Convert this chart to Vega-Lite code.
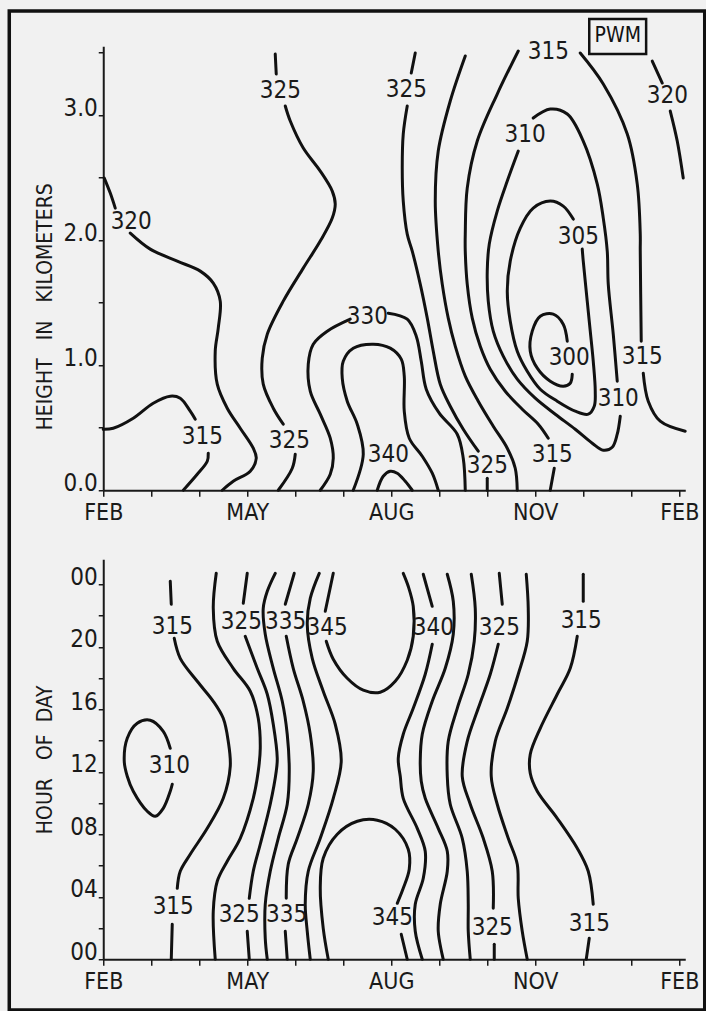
{
"$schema": "https://vega.github.io/schema/vega-lite/v6.json",
"background": "#f1f1f1",
"padding": {"left": 7.25, "top": 8.25, "right": 0, "bottom": 0},
"bounds": "flush",
"spacing": 69,
"config": {
 "view": {"stroke": null},
 "font": "Liberation Sans Narrow, DejaVu Sans Condensed, sans-serif",
 "axis": {"labelFont": "Liberation Sans Narrow, DejaVu Sans Condensed, sans-serif", "titleFont": "Liberation Sans Narrow, DejaVu Sans Condensed, sans-serif", "labelFontSize": 24, "titleFontSize": 21, "titleFontWeight": "normal", "labelColor": "#1a1a1a", "titleColor": "#1a1a1a", "domainColor": "#1a1a1a", "tickColor": "#1a1a1a", "domainWidth": 2, "tickWidth": 1.5, "grid": false, "labelFlush": false, "labelOverlap": false, "labelBound": false}
},
"datasets": {
 "frame": [{"m": -1.958, "h": 3.832, "m2": 12.531, "h2": -4.156}],
 "pwm": [{"m": 10.125, "h": 3.768, "m2": 11.31, "h2": 3.488}],
 "pwmtext": [{"m": 10.72, "h": 3.628, "t": "PWM"}],
 "toplab": [
  {"m":0.583,"h":2.144,"t":"320"},{"m":2.0625,"h":0.424,"t":"315"},{"m":3.6875,"h":3.192,"t":"325"},{"m":3.875,"h":0.392,"t":"325"},
  {"m":5.5,"h":1.384,"t":"330"},{"m":5.9375,"h":0.28,"t":"340"},{"m":6.3125,"h":3.2,"t":"325"},{"m":9.271,"h":3.504,"t":"315"},
  {"m":8.79,"h":2.84,"t":"310"},{"m":9.896,"h":2.024,"t":"305"},{"m":11.75,"h":3.152,"t":"320"},{"m":9.708,"h":1.056,"t":"300"},
  {"m":11.229,"h":1.064,"t":"315"},{"m":10.729,"h":0.728,"t":"310"},{"m":8.0,"h":0.192,"t":"325"},{"m":9.354,"h":0.28,"t":"315"}
 ],
 "botlab": [
  {"m":1.4375,"h":21.25,"t":"315"},{"m":2.875,"h":21.57,"t":"325"},{"m":3.8,"h":21.57,"t":"335"},{"m":4.666,"h":21.18,"t":"345"},
  {"m":1.375,"h":12.35,"t":"310"},{"m":6.875,"h":21.18,"t":"340"},{"m":8.25,"h":21.18,"t":"325"},{"m":9.958,"h":21.63,"t":"315"},
  {"m":1.458,"h":3.33,"t":"315"},{"m":2.833,"h":2.82,"t":"325"},{"m":3.82,"h":2.82,"t":"335"},{"m":6.021,"h":2.62,"t":"345"},
  {"m":8.104,"h":1.98,"t":"325"},{"m":10.125,"h":2.24,"t":"315"}
 ],
 "top": [
  {"s":"t1","i":0,"m":0.021,"h":2.496},{"s":"t1","i":1,"m":0.146,"h":2.376},{"s":"t1","i":2,"m":0.25,"h":2.256},
  {"s":"t2","i":0,"m":0.5625,"h":2.056},{"s":"t2","i":1,"m":0.979,"h":1.928},{"s":"t2","i":2,"m":1.542,"h":1.832},{"s":"t2","i":3,"m":2.021,"h":1.752},{"s":"t2","i":4,"m":2.292,"h":1.656},{"s":"t2","i":5,"m":2.4375,"h":1.512},{"s":"t2","i":6,"m":2.396,"h":1.296},{"s":"t2","i":7,"m":2.333,"h":1.112},{"s":"t2","i":8,"m":2.375,"h":0.848},{"s":"t2","i":9,"m":2.583,"h":0.656},{"s":"t2","i":10,"m":2.854,"h":0.496},{"s":"t2","i":11,"m":3.125,"h":0.336},{"s":"t2","i":12,"m":3.1875,"h":0.256},{"s":"t2","i":13,"m":3.0625,"h":0.152},{"s":"t2","i":14,"m":2.708,"h":0.072},{"s":"t2","i":15,"m":2.479,"h":0},
  {"s":"t3","i":0,"m":0,"h":0.488},{"s":"t3","i":1,"m":0.208,"h":0.496},{"s":"t3","i":2,"m":0.625,"h":0.576},{"s":"t3","i":3,"m":1.042,"h":0.696},{"s":"t3","i":4,"m":1.396,"h":0.752},{"s":"t3","i":5,"m":1.604,"h":0.736},{"s":"t3","i":6,"m":1.8125,"h":0.632},{"s":"t3","i":7,"m":1.917,"h":0.568},
  {"s":"t4","i":0,"m":2.1875,"h":0.296},{"s":"t4","i":1,"m":2.167,"h":0.232},{"s":"t4","i":2,"m":1.958,"h":0.128},{"s":"t4","i":3,"m":1.667,"h":0},
  {"s":"t5","i":0,"m":3.583,"h":3.488},{"s":"t5","i":1,"m":3.604,"h":3.328},
  {"s":"t6","i":0,"m":3.792,"h":3.072},{"s":"t6","i":1,"m":3.896,"h":2.952},{"s":"t6","i":2,"m":4.167,"h":2.736},{"s":"t6","i":3,"m":4.521,"h":2.552},{"s":"t6","i":4,"m":4.771,"h":2.392},{"s":"t6","i":5,"m":4.833,"h":2.288},{"s":"t6","i":6,"m":4.771,"h":2.176},{"s":"t6","i":7,"m":4.521,"h":1.992},{"s":"t6","i":8,"m":4.167,"h":1.776},{"s":"t6","i":9,"m":3.75,"h":1.512},{"s":"t6","i":10,"m":3.417,"h":1.248},{"s":"t6","i":11,"m":3.3125,"h":1.056},{"s":"t6","i":12,"m":3.333,"h":0.848},{"s":"t6","i":13,"m":3.542,"h":0.656},{"s":"t6","i":14,"m":3.75,"h":0.528},
  {"s":"t7","i":0,"m":4.0,"h":0.288},{"s":"t7","i":1,"m":3.9375,"h":0.176},{"s":"t7","i":2,"m":3.646,"h":0},
  {"s":"t8","i":0,"m":5.146,"h":1.368},{"s":"t8","i":1,"m":4.667,"h":1.272},{"s":"t8","i":2,"m":4.375,"h":1.168},{"s":"t8","i":3,"m":4.271,"h":1.008},{"s":"t8","i":4,"m":4.3125,"h":0.792},{"s":"t8","i":5,"m":4.521,"h":0.608},{"s":"t8","i":6,"m":4.729,"h":0.416},{"s":"t8","i":7,"m":4.792,"h":0.256},{"s":"t8","i":8,"m":4.729,"h":0.128},{"s":"t8","i":9,"m":4.521,"h":0},
  {"s":"t9","i":0,"m":5.9375,"h":1.416},{"s":"t9","i":1,"m":6.333,"h":1.368},{"s":"t9","i":2,"m":6.521,"h":1.232},{"s":"t9","i":3,"m":6.625,"h":1.032},{"s":"t9","i":4,"m":6.729,"h":0.808},{"s":"t9","i":5,"m":7.0,"h":0.616},{"s":"t9","i":6,"m":7.375,"h":0.448},{"s":"t9","i":7,"m":7.5,"h":0.256},{"s":"t9","i":8,"m":7.542,"h":0},
  {"s":"t10","i":0,"m":5.208,"h":0},{"s":"t10","i":1,"m":5.417,"h":0.288},{"s":"t10","i":2,"m":5.292,"h":0.528},{"s":"t10","i":3,"m":5.083,"h":0.712},{"s":"t10","i":4,"m":4.979,"h":0.896},{"s":"t10","i":5,"m":5.0,"h":1.032},{"s":"t10","i":6,"m":5.208,"h":1.136},{"s":"t10","i":7,"m":5.625,"h":1.168},{"s":"t10","i":8,"m":5.979,"h":1.136},{"s":"t10","i":9,"m":6.208,"h":1.048},{"s":"t10","i":10,"m":6.271,"h":0.912},{"s":"t10","i":11,"m":6.271,"h":0.632},{"s":"t10","i":12,"m":6.375,"h":0.416},{"s":"t10","i":13,"m":6.646,"h":0.272},{"s":"t10","i":14,"m":6.854,"h":0.136},{"s":"t10","i":15,"m":6.979,"h":0},
  {"s":"t11","i":0,"m":5.708,"h":0},{"s":"t11","i":1,"m":5.833,"h":0.112},{"s":"t11","i":2,"m":5.979,"h":0.152},{"s":"t11","i":3,"m":6.125,"h":0.136},{"s":"t11","i":4,"m":6.292,"h":0.072},{"s":"t11","i":5,"m":6.4375,"h":0},
  {"s":"t12","i":0,"m":6.5,"h":3.496},{"s":"t12","i":1,"m":6.417,"h":3.336},
  {"s":"t13","i":0,"m":6.333,"h":3.072},{"s":"t13","i":1,"m":6.25,"h":2.848},{"s":"t13","i":2,"m":6.229,"h":2.576},{"s":"t13","i":3,"m":6.25,"h":2.312},{"s":"t13","i":4,"m":6.333,"h":2.048},{"s":"t13","i":5,"m":6.4375,"h":1.912},{"s":"t13","i":6,"m":6.604,"h":1.648},{"s":"t13","i":7,"m":6.75,"h":1.376},{"s":"t13","i":8,"m":6.875,"h":1.112},{"s":"t13","i":9,"m":7.021,"h":0.848},{"s":"t13","i":10,"m":7.229,"h":0.672},{"s":"t13","i":11,"m":7.5,"h":0.488},{"s":"t13","i":12,"m":7.8125,"h":0.312},
  {"s":"t14","i":0,"m":8.0,"h":0.096},{"s":"t14","i":1,"m":8.0,"h":0},
  {"s":"t15","i":0,"m":7.542,"h":3.472},{"s":"t15","i":1,"m":7.229,"h":3.112},{"s":"t15","i":2,"m":6.979,"h":2.712},{"s":"t15","i":3,"m":6.917,"h":2.312},{"s":"t15","i":4,"m":6.979,"h":1.912},{"s":"t15","i":5,"m":7.0625,"h":1.648},{"s":"t15","i":6,"m":7.1875,"h":1.376},{"s":"t15","i":7,"m":7.333,"h":1.152},{"s":"t15","i":8,"m":7.542,"h":0.912},{"s":"t15","i":9,"m":7.8125,"h":0.712},{"s":"t15","i":10,"m":8.125,"h":0.512},{"s":"t15","i":11,"m":8.417,"h":0.336},{"s":"t15","i":12,"m":8.583,"h":0.176},{"s":"t15","i":13,"m":8.625,"h":0},
  {"s":"t16","i":0,"m":9.271,"h":0.416},{"s":"t16","i":1,"m":9.0625,"h":0.528},{"s":"t16","i":2,"m":8.729,"h":0.648},{"s":"t16","i":3,"m":8.375,"h":0.792},{"s":"t16","i":4,"m":8.0625,"h":0.968},{"s":"t16","i":5,"m":7.854,"h":1.152},{"s":"t16","i":6,"m":7.6875,"h":1.376},{"s":"t16","i":7,"m":7.583,"h":1.648},{"s":"t16","i":8,"m":7.542,"h":1.912},{"s":"t16","i":9,"m":7.542,"h":2.048},{"s":"t16","i":10,"m":7.583,"h":2.416},{"s":"t16","i":11,"m":7.792,"h":2.792},{"s":"t16","i":12,"m":8.208,"h":3.168},{"s":"t16","i":13,"m":8.646,"h":3.512},
  {"s":"t17","i":0,"m":9.396,"h":0.176},{"s":"t17","i":1,"m":9.3125,"h":0},
  {"s":"t18","i":0,"m":9.9375,"h":3.496},{"s":"t18","i":1,"m":10.417,"h":3.248},{"s":"t18","i":2,"m":10.917,"h":2.848},{"s":"t18","i":3,"m":11.125,"h":2.448},{"s":"t18","i":4,"m":11.1875,"h":2.048},{"s":"t18","i":5,"m":11.1875,"h":1.912},{"s":"t18","i":6,"m":11.208,"h":1.192},
  {"s":"t19","i":0,"m":11.25,"h":0.936},{"s":"t19","i":1,"m":11.354,"h":0.712},{"s":"t19","i":2,"m":11.604,"h":0.552},{"s":"t19","i":3,"m":12.125,"h":0.472},
  {"s":"t20","i":0,"m":8.646,"h":2.712},{"s":"t20","i":1,"m":8.417,"h":2.472},{"s":"t20","i":2,"m":8.208,"h":2.232},{"s":"t20","i":3,"m":8.042,"h":1.968},{"s":"t20","i":4,"m":8.0,"h":1.752},{"s":"t20","i":5,"m":8.021,"h":1.512},{"s":"t20","i":6,"m":8.125,"h":1.272},{"s":"t20","i":7,"m":8.333,"h":1.072},{"s":"t20","i":8,"m":8.625,"h":0.888},{"s":"t20","i":9,"m":9.0,"h":0.736},{"s":"t20","i":10,"m":9.417,"h":0.608},{"s":"t20","i":11,"m":9.833,"h":0.488},{"s":"t20","i":12,"m":10.1875,"h":0.376},{"s":"t20","i":13,"m":10.417,"h":0.32},{"s":"t20","i":14,"m":10.604,"h":0.344},{"s":"t20","i":15,"m":10.708,"h":0.448},{"s":"t20","i":16,"m":10.771,"h":0.592},
  {"s":"t21","i":0,"m":10.708,"h":0.872},{"s":"t21","i":1,"m":10.625,"h":1.248},{"s":"t21","i":2,"m":10.521,"h":1.648},{"s":"t21","i":3,"m":10.5,"h":1.912},{"s":"t21","i":4,"m":10.417,"h":2.176},{"s":"t21","i":5,"m":10.292,"h":2.448},{"s":"t21","i":6,"m":10.0,"h":2.792},{"s":"t21","i":7,"m":9.667,"h":3.008},{"s":"t21","i":8,"m":9.3125,"h":3.048},{"s":"t21","i":9,"m":8.958,"h":2.976},
  {"s":"t22","i":0,"m":9.792,"h":2.168},{"s":"t22","i":1,"m":9.583,"h":2.272},{"s":"t22","i":2,"m":9.3125,"h":2.312},{"s":"t22","i":3,"m":8.958,"h":2.256},{"s":"t22","i":4,"m":8.6875,"h":2.096},{"s":"t22","i":5,"m":8.479,"h":1.832},{"s":"t22","i":6,"m":8.417,"h":1.592},{"s":"t22","i":7,"m":8.479,"h":1.352},{"s":"t22","i":8,"m":8.625,"h":1.112},{"s":"t22","i":9,"m":8.833,"h":0.952},{"s":"t22","i":10,"m":9.104,"h":0.808},{"s":"t22","i":11,"m":9.458,"h":0.712},{"s":"t22","i":12,"m":9.833,"h":0.632},{"s":"t22","i":13,"m":10.104,"h":0.608},{"s":"t22","i":14,"m":10.229,"h":0.672},{"s":"t22","i":15,"m":10.25,"h":0.792},{"s":"t22","i":16,"m":10.208,"h":1.032},{"s":"t22","i":17,"m":10.146,"h":1.272},{"s":"t22","i":18,"m":10.083,"h":1.512},{"s":"t22","i":19,"m":10.0,"h":1.832},{"s":"t22","i":20,"m":9.979,"h":1.928},
  {"s":"t23","i":0,"m":9.771,"h":0.928},{"s":"t23","i":1,"m":9.729,"h":0.856},{"s":"t23","i":2,"m":9.583,"h":0.832},{"s":"t23","i":3,"m":9.3125,"h":0.872},{"s":"t23","i":4,"m":9.042,"h":0.976},{"s":"t23","i":5,"m":8.896,"h":1.112},{"s":"t23","i":6,"m":8.9375,"h":1.272},{"s":"t23","i":7,"m":9.104,"h":1.392},{"s":"t23","i":8,"m":9.375,"h":1.408},{"s":"t23","i":9,"m":9.583,"h":1.328},{"s":"t23","i":10,"m":9.667,"h":1.192},
  {"s":"t24","i":0,"m":11.4375,"h":3.432},{"s":"t24","i":1,"m":11.646,"h":3.256},
  {"s":"t25","i":0,"m":11.8125,"h":3.032},{"s":"t25","i":1,"m":11.958,"h":2.792},{"s":"t25","i":2,"m":12.083,"h":2.496}
 ],
 "bot": [
  {"s":"b1","i":0,"m":1.396,"h":24.19},{"s":"b1","i":1,"m":1.417,"h":22.72},
  {"s":"b2","i":0,"m":1.479,"h":20.54},{"s":"b2","i":1,"m":1.604,"h":19.26},{"s":"b2","i":2,"m":1.958,"h":17.79},{"s":"b2","i":3,"m":2.292,"h":16.51},{"s":"b2","i":4,"m":2.5,"h":15.42},{"s":"b2","i":5,"m":2.604,"h":13.95},{"s":"b2","i":6,"m":2.646,"h":12.35},{"s":"b2","i":7,"m":2.5,"h":10.3},{"s":"b2","i":8,"m":2.167,"h":8.38},{"s":"b2","i":9,"m":1.8125,"h":6.72},{"s":"b2","i":10,"m":1.604,"h":5.63},{"s":"b2","i":11,"m":1.542,"h":4.54},
  {"s":"b3","i":0,"m":1.4375,"h":2.24},{"s":"b3","i":1,"m":1.417,"h":0},
  {"s":"b4","i":0,"m":1.396,"h":13.5},{"s":"b4","i":1,"m":1.25,"h":14.59},{"s":"b4","i":2,"m":0.979,"h":15.3},{"s":"b4","i":3,"m":0.708,"h":15.1},{"s":"b4","i":4,"m":0.5,"h":14.14},{"s":"b4","i":5,"m":0.4375,"h":12.67},{"s":"b4","i":6,"m":0.5,"h":11.71},{"s":"b4","i":7,"m":0.625,"h":10.75},{"s":"b4","i":8,"m":0.917,"h":9.47},{"s":"b4","i":9,"m":1.083,"h":9.15},{"s":"b4","i":10,"m":1.25,"h":9.66},{"s":"b4","i":11,"m":1.396,"h":10.75},{"s":"b4","i":12,"m":1.4375,"h":11.2},
  {"s":"b5","i":0,"m":2.354,"h":24.7},{"s":"b5","i":1,"m":2.292,"h":22.46},{"s":"b5","i":2,"m":2.375,"h":20.35},{"s":"b5","i":3,"m":2.708,"h":18.62},{"s":"b5","i":4,"m":3.0625,"h":17.15},{"s":"b5","i":5,"m":3.229,"h":15.42},{"s":"b5","i":6,"m":3.271,"h":13.5},{"s":"b5","i":7,"m":3.229,"h":12.03},{"s":"b5","i":8,"m":3.125,"h":10.3},{"s":"b5","i":9,"m":2.854,"h":7.74},{"s":"b5","i":10,"m":2.583,"h":6.27},{"s":"b5","i":11,"m":2.375,"h":4.99},{"s":"b5","i":12,"m":2.292,"h":3.07},{"s":"b5","i":13,"m":2.333,"h":0},
  {"s":"b6","i":0,"m":3.0,"h":24.7},{"s":"b6","i":1,"m":2.917,"h":22.78},
  {"s":"b7","i":0,"m":2.958,"h":20.67},{"s":"b7","i":1,"m":3.208,"h":18.62},{"s":"b7","i":2,"m":3.417,"h":16.96},{"s":"b7","i":3,"m":3.542,"h":15.04},{"s":"b7","i":4,"m":3.625,"h":12.86},{"s":"b7","i":5,"m":3.604,"h":12.03},{"s":"b7","i":6,"m":3.479,"h":9.92},{"s":"b7","i":7,"m":3.271,"h":7.36},{"s":"b7","i":8,"m":3.125,"h":5.63},{"s":"b7","i":9,"m":3.042,"h":3.9},
  {"s":"b8","i":0,"m":3.0,"h":1.79},{"s":"b8","i":1,"m":3.042,"h":0},
  {"s":"b9","i":0,"m":3.583,"h":24.7},{"s":"b9","i":1,"m":3.417,"h":23.55},{"s":"b9","i":2,"m":3.333,"h":22.46},{"s":"b9","i":3,"m":3.375,"h":20.8},{"s":"b9","i":4,"m":3.542,"h":18.62},{"s":"b9","i":5,"m":3.729,"h":16.51},{"s":"b9","i":6,"m":3.833,"h":14.4},{"s":"b9","i":7,"m":3.875,"h":12.03},{"s":"b9","i":8,"m":3.833,"h":9.92},{"s":"b9","i":9,"m":3.646,"h":7.74},{"s":"b9","i":10,"m":3.479,"h":5.63},{"s":"b9","i":11,"m":3.375,"h":3.52},{"s":"b9","i":12,"m":3.375,"h":1.34},{"s":"b9","i":13,"m":3.417,"h":0},
  {"s":"b10","i":0,"m":3.979,"h":24.7},{"s":"b10","i":1,"m":3.792,"h":22.72},
  {"s":"b11","i":0,"m":3.8125,"h":20.67},{"s":"b11","i":1,"m":3.958,"h":18.62},{"s":"b11","i":2,"m":4.167,"h":16.51},{"s":"b11","i":3,"m":4.3125,"h":14.4},{"s":"b11","i":4,"m":4.375,"h":12.03},{"s":"b11","i":5,"m":4.271,"h":9.92},{"s":"b11","i":6,"m":4.042,"h":7.74},{"s":"b11","i":7,"m":3.854,"h":6.08},{"s":"b11","i":8,"m":3.8125,"h":3.9},
  {"s":"b12","i":0,"m":3.792,"h":1.79},{"s":"b12","i":1,"m":3.833,"h":0},
  {"s":"b13","i":0,"m":4.5,"h":24.7},{"s":"b13","i":1,"m":4.3125,"h":23.1},{"s":"b13","i":2,"m":4.25,"h":21.44},{"s":"b13","i":3,"m":4.354,"h":19.26},{"s":"b13","i":4,"m":4.583,"h":17.15},{"s":"b13","i":5,"m":4.833,"h":15.04},{"s":"b13","i":6,"m":4.958,"h":12.67},{"s":"b13","i":7,"m":4.792,"h":10.3},{"s":"b13","i":8,"m":4.521,"h":7.74},{"s":"b13","i":9,"m":4.271,"h":5.63},{"s":"b13","i":10,"m":4.208,"h":3.52},{"s":"b13","i":11,"m":4.25,"h":1.79},{"s":"b13","i":12,"m":4.3125,"h":0},
  {"s":"b14","i":0,"m":4.792,"h":24.7},{"s":"b14","i":1,"m":4.625,"h":22.27},
  {"s":"b15","i":0,"m":4.646,"h":20.35},{"s":"b15","i":1,"m":4.792,"h":19.2},{"s":"b15","i":2,"m":5.083,"h":17.98},{"s":"b15","i":3,"m":5.417,"h":17.22},{"s":"b15","i":4,"m":5.771,"h":17.09},{"s":"b15","i":5,"m":6.083,"h":17.79},{"s":"b15","i":6,"m":6.333,"h":19.14},{"s":"b15","i":7,"m":6.458,"h":20.67},{"s":"b15","i":8,"m":6.458,"h":22.59},{"s":"b15","i":9,"m":6.354,"h":23.87},{"s":"b15","i":10,"m":6.25,"h":24.7},
  {"s":"b16","i":0,"m":4.6875,"h":0},{"s":"b16","i":1,"m":4.583,"h":1.98},{"s":"b16","i":2,"m":4.521,"h":4.54},{"s":"b16","i":3,"m":4.583,"h":6.46},{"s":"b16","i":4,"m":4.875,"h":8.0},{"s":"b16","i":5,"m":5.292,"h":8.83},{"s":"b16","i":6,"m":5.708,"h":8.9},{"s":"b16","i":7,"m":6.083,"h":8.32},{"s":"b16","i":8,"m":6.354,"h":7.04},{"s":"b16","i":9,"m":6.375,"h":5.76},{"s":"b16","i":10,"m":6.25,"h":4.54},{"s":"b16","i":11,"m":6.125,"h":3.58},
  {"s":"b17","i":0,"m":6.208,"h":1.6},{"s":"b17","i":1,"m":6.333,"h":0},
  {"s":"b18","i":0,"m":6.667,"h":24.64},{"s":"b18","i":1,"m":6.854,"h":22.59},
  {"s":"b19","i":0,"m":6.854,"h":20.16},{"s":"b19","i":1,"m":6.708,"h":18.24},{"s":"b19","i":2,"m":6.458,"h":16.06},{"s":"b19","i":3,"m":6.25,"h":14.4},{"s":"b19","i":4,"m":6.146,"h":12.86},{"s":"b19","i":5,"m":6.1875,"h":11.71},{"s":"b19","i":6,"m":6.25,"h":10.3},{"s":"b19","i":7,"m":6.542,"h":8.38},{"s":"b19","i":8,"m":6.708,"h":6.91},{"s":"b19","i":9,"m":6.667,"h":5.18},{"s":"b19","i":10,"m":6.5,"h":3.52},{"s":"b19","i":11,"m":6.5,"h":1.79},{"s":"b19","i":12,"m":6.646,"h":0},
  {"s":"b20","i":0,"m":7.167,"h":24.64},{"s":"b20","i":1,"m":7.292,"h":22.91},{"s":"b20","i":2,"m":7.292,"h":20.8},{"s":"b20","i":3,"m":7.125,"h":18.62},{"s":"b20","i":4,"m":6.854,"h":16.51},{"s":"b20","i":5,"m":6.646,"h":14.4},{"s":"b20","i":6,"m":6.604,"h":12.67},{"s":"b20","i":7,"m":6.625,"h":11.39},{"s":"b20","i":8,"m":6.708,"h":10.3},{"s":"b20","i":9,"m":6.979,"h":8.38},{"s":"b20","i":10,"m":7.167,"h":6.91},{"s":"b20","i":11,"m":7.167,"h":5.63},{"s":"b20","i":12,"m":7.021,"h":3.52},{"s":"b20","i":13,"m":6.979,"h":1.79},{"s":"b20","i":14,"m":7.083,"h":0},
  {"s":"b21","i":0,"m":7.667,"h":24.64},{"s":"b21","i":1,"m":7.75,"h":22.46},{"s":"b21","i":2,"m":7.729,"h":20.35},{"s":"b21","i":3,"m":7.604,"h":18.24},{"s":"b21","i":4,"m":7.375,"h":16.06},{"s":"b21","i":5,"m":7.1875,"h":13.95},{"s":"b21","i":6,"m":7.167,"h":11.71},{"s":"b21","i":7,"m":7.229,"h":9.92},{"s":"b21","i":8,"m":7.479,"h":7.74},{"s":"b21","i":9,"m":7.583,"h":5.63},{"s":"b21","i":10,"m":7.604,"h":3.52},{"s":"b21","i":11,"m":7.604,"h":1.79},{"s":"b21","i":12,"m":7.646,"h":0},
  {"s":"b22","i":0,"m":8.25,"h":24.7},{"s":"b22","i":1,"m":8.3125,"h":22.72},
  {"s":"b23","i":0,"m":8.229,"h":20.16},{"s":"b23","i":1,"m":8.0625,"h":18.24},{"s":"b23","i":2,"m":7.8125,"h":16.06},{"s":"b23","i":3,"m":7.583,"h":13.95},{"s":"b23","i":4,"m":7.479,"h":11.71},{"s":"b23","i":5,"m":7.646,"h":9.92},{"s":"b23","i":6,"m":7.917,"h":7.74},{"s":"b23","i":7,"m":8.104,"h":5.63},{"s":"b23","i":8,"m":8.125,"h":3.26},
  {"s":"b24","i":0,"m":8.146,"h":0.96},{"s":"b24","i":1,"m":8.146,"h":0},
  {"s":"b25","i":0,"m":8.8125,"h":24.64},{"s":"b25","i":1,"m":8.854,"h":22.46},{"s":"b25","i":2,"m":8.833,"h":20.35},{"s":"b25","i":3,"m":8.646,"h":18.24},{"s":"b25","i":4,"m":8.417,"h":16.06},{"s":"b25","i":5,"m":8.167,"h":13.95},{"s":"b25","i":6,"m":8.083,"h":11.71},{"s":"b25","i":7,"m":8.208,"h":9.92},{"s":"b25","i":8,"m":8.4375,"h":7.74},{"s":"b25","i":9,"m":8.625,"h":6.08},{"s":"b25","i":10,"m":8.646,"h":3.9},{"s":"b25","i":11,"m":8.729,"h":1.79},{"s":"b25","i":12,"m":8.833,"h":0},
  {"s":"b26","i":0,"m":10.0,"h":24.64},{"s":"b26","i":1,"m":10.0,"h":22.91},
  {"s":"b27","i":0,"m":9.875,"h":20.67},{"s":"b27","i":1,"m":9.729,"h":18.62},{"s":"b27","i":2,"m":9.458,"h":16.96},{"s":"b27","i":3,"m":9.104,"h":14.78},{"s":"b27","i":4,"m":8.896,"h":13.12},{"s":"b27","i":5,"m":8.896,"h":11.9},{"s":"b27","i":6,"m":9.042,"h":10.75},{"s":"b27","i":7,"m":9.458,"h":9.02},{"s":"b27","i":8,"m":9.875,"h":7.1},{"s":"b27","i":9,"m":10.104,"h":5.63},{"s":"b27","i":10,"m":10.208,"h":3.52},
  {"s":"b28","i":0,"m":10.125,"h":1.34},{"s":"b28","i":1,"m":10.0625,"h":0}
 ]
},
"vconcat": [
 {
  "width": 582, "height": 444,
  "encoding": {
   "x": {"field": "m", "type": "quantitative", "scale": {"domain": [0, 12.125], "nice": false, "zero": false},
     "axis": {"values": [0,1,2,3,4,5,6,7,8,9,10,11,12], "labelExpr": "datum.value==0||datum.value==12?'FEB':datum.value==3?'MAY':datum.value==6?'AUG':datum.value==9?'NOV':''", "title": null, "tickSize": 6, "labelPadding": 5, "labelFontSize": 23}},
   "y": {"field": "h", "type": "quantitative", "scale": {"domain": [0, 3.55], "nice": false, "zero": false},
     "axis": {"values": [0,0.5,1,1.5,2,2.5,3,3.5], "labelExpr": "datum.value % 1 == 0 ? format(datum.value, '.1f') : ''", "labelBaseline": "alphabetic", "tickSize": 5, "labelPadding": 1, "title": "HEIGHT\u00a0\u00a0\u00a0IN\u00a0\u00a0\u00a0KILOMETERS", "titleY": 260, "titlePadding": 7}}
  },
  "layer": [
   {"data": {"name": "frame"}, "mark": {"type": "rect", "filled": false, "stroke": "#111111", "strokeWidth": 3.5}, "encoding": {"x2": {"field": "m2"}, "y2": {"field": "h2"}}},
   {"data": {"name": "pwm"}, "mark": {"type": "rect", "filled": false, "stroke": "#111111", "strokeWidth": 2.5}, "encoding": {"x2": {"field": "m2"}, "y2": {"field": "h2"}}},
   {"data": {"name": "pwmtext"}, "mark": {"type": "text", "fontSize": 21, "color": "#111111", "baseline": "middle"}, "encoding": {"text": {"field": "t"}}},
   {"data": {"name": "top"}, "mark": {"type": "line", "interpolate": "catmull-rom", "strokeWidth": 3, "color": "#111111", "strokeCap": "round"}, "encoding": {"detail": {"field": "s"}, "order": {"field": "i"}}},
   {"data": {"name": "toplab"}, "mark": {"type": "text", "fontSize": 24, "color": "#1a1a1a", "baseline": "middle"}, "encoding": {"text": {"field": "t"}}}
  ]
 },
 {
  "width": 582, "height": 400,
  "encoding": {
   "x": {"field": "m", "type": "quantitative", "scale": {"domain": [0, 12.125], "nice": false, "zero": false},
     "axis": {"values": [0,1,2,3,4,5,6,7,8,9,10,11,12], "labelExpr": "datum.value==0||datum.value==12?'FEB':datum.value==3?'MAY':datum.value==6?'AUG':datum.value==9?'NOV':''", "title": null, "tickSize": 6, "labelPadding": 5, "labelFontSize": 23}},
   "y": {"field": "h", "type": "quantitative", "scale": {"domain": [0, 25.6], "nice": false, "zero": false},
     "axis": {"values": [0,2,4,6,8,10,12,14,16,18,20,22,24], "labelExpr": "datum.value % 4 == 0 ? (datum.value == 24 ? '00' : (datum.value < 10 ? '0' : '') + datum.value) : ''", "labelBaseline": "alphabetic", "tickSize": 5, "labelPadding": 1, "title": "HOUR\u00a0\u00a0\u00a0OF\u00a0\u00a0DAY", "titlePadding": 14}}
  },
  "layer": [
   {"data": {"name": "bot"}, "mark": {"type": "line", "interpolate": "catmull-rom", "strokeWidth": 3, "color": "#111111", "strokeCap": "round"}, "encoding": {"detail": {"field": "s"}, "order": {"field": "i"}}},
   {"data": {"name": "botlab"}, "mark": {"type": "text", "fontSize": 24, "color": "#1a1a1a", "baseline": "middle"}, "encoding": {"text": {"field": "t"}}}
  ]
 }
]
}
